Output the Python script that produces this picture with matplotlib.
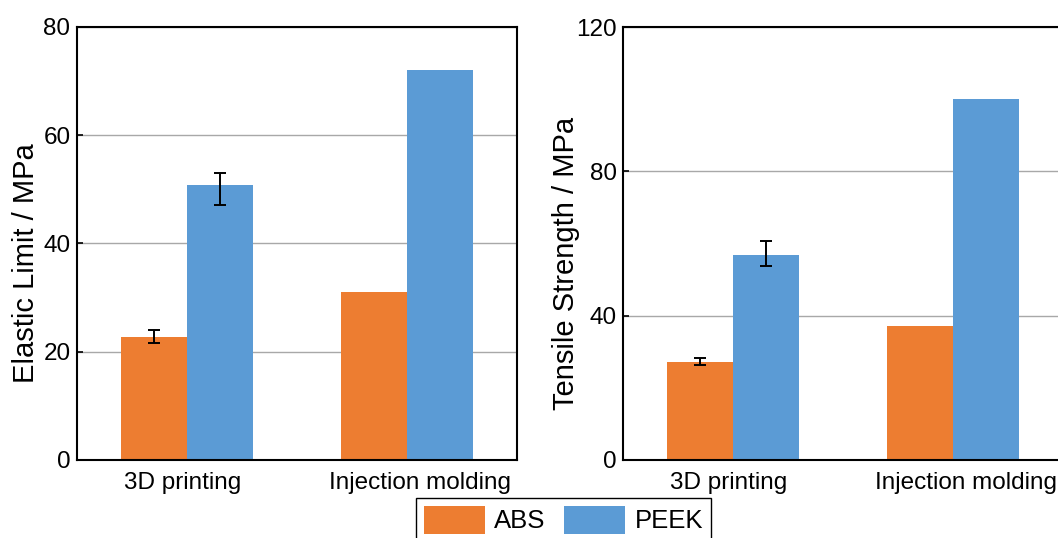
import numpy as np
import matplotlib
matplotlib.use("Agg")
import matplotlib.pyplot as plt
from matplotlib.patches import Patch

plt.rcParams['font.family'] = ['Liberation Sans', 'DejaVu Sans']

categories = ["3D printing", "Injection molding"]
series = ["ABS", "PEEK"]

# Elastic limit (MPa)
abs_elastic = [22.8, 31.0]
peek_elastic = [50.8, 72.0]
abs_elastic_err_lo = [1.2, np.nan]
abs_elastic_err_hi = [1.2, np.nan]
peek_elastic_err_lo = [3.6, np.nan]
peek_elastic_err_hi = [2.3, np.nan]

# Tensile strength (MPa)
abs_tensile = [27.2, 37.0]
peek_tensile = [56.8, 100.0]
abs_tensile_err_lo = [1.0, np.nan]
abs_tensile_err_hi = [1.0, np.nan]
peek_tensile_err_lo = [3.1, np.nan]
peek_tensile_err_hi = [3.8, np.nan]

elastic_ticks = [0, 20, 40, 60, 80]
tensile_ticks = [0, 40, 80, 120]

c_abs = '#ED7D31'
c_peek = '#5B9BD5'

W, H = 1058, 538
fig = plt.figure(figsize=(W / 100, H / 100), dpi=100)

bw = 0.30
x = np.arange(len(categories))
label_shift = np.array([-0.02, 0.06])


def panel(ax, a_vals, p_vals, a_lo, a_hi, p_lo, p_hi, ticks, ylabel, lx):
    ax.set_axisbelow(True)
    ax.bar(x - bw / 2, a_vals, bw, color=c_abs, zorder=2)
    ax.bar(x + bw / 2, p_vals, bw, color=c_peek, zorder=2)
    for xs, vals, lo, hi in [(x - bw / 2, a_vals, a_lo, a_hi), (x + bw / 2, p_vals, p_lo, p_hi)]:
        vals = np.asarray(vals, float)
        lo = np.asarray(lo, float)
        hi = np.asarray(hi, float)
        m = ~np.isnan(lo)
        ax.errorbar(xs[m], vals[m], yerr=[lo[m], hi[m]], fmt='none', ecolor='black',
                    elinewidth=1.4, capsize=4, capthick=1.4, zorder=3)
    ax.set_xlim(-0.5, 1.5)
    ax.set_ylim(ticks[0], ticks[-1])
    ax.set_yticks(ticks)
    ax.set_xticks(x + label_shift)
    ax.set_xticklabels(categories)
    ax.yaxis.grid(True, color='#A8A8A8', linewidth=1.0)
    ax.tick_params(axis='y', direction='in', length=4, width=1.2, pad=4.5, labelsize=17.5)
    ax.tick_params(axis='x', length=0, pad=9, labelsize=17.5)
    for s in ax.spines.values():
        s.set_linewidth(1.5)
        s.set_color('black')
    ax.set_ylabel(ylabel, fontsize=21, va='baseline', ha='center')
    ax.yaxis.set_label_coords(lx, 0.455)


ax1 = fig.add_axes([76.7 / W, (H - 460) / H, 440 / W, (460 - 27) / H])
panel(ax1, abs_elastic, peek_elastic, abs_elastic_err_lo, abs_elastic_err_hi,
      peek_elastic_err_lo, peek_elastic_err_hi, elastic_ticks, "Elastic Limit / MPa", -0.098)

ax2 = fig.add_axes([623.3 / W, (H - 460) / H, 440 / W, (460 - 27) / H])
panel(ax2, abs_tensile, peek_tensile, abs_tensile_err_lo, abs_tensile_err_hi,
      peek_tensile_err_lo, peek_tensile_err_hi, tensile_ticks, "Tensile Strength / MPa", -0.113)

handles = [Patch(facecolor=c_abs, edgecolor='none'), Patch(facecolor=c_peek, edgecolor='none')]
leg = fig.legend(handles, series, loc='upper left', bbox_to_anchor=(416 / W, 1 - 498 / H),
                 ncol=2, frameon=True, fancybox=False, edgecolor='black', framealpha=1,
                 fontsize=18.5, handlelength=2.4, handleheight=1.3, handletextpad=0.35,
                 columnspacing=0.7, borderpad=0.3, borderaxespad=0)
leg.get_frame().set_linewidth(1.0)

fig.savefig("out.png", dpi=100)
